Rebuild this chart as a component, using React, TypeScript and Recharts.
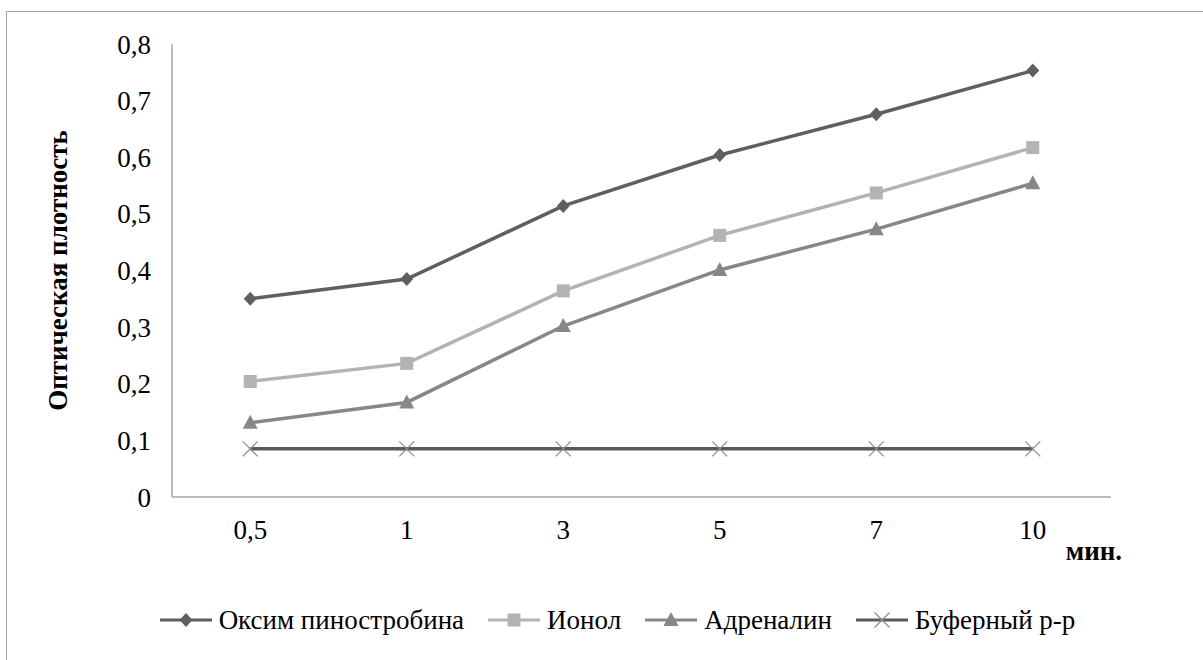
import React from 'react';
import { LineChart, Line, XAxis, YAxis, Legend } from 'recharts';

const categories = ['0,5', '1', '3', '5', '7', '10'];
const oximValues = [0.35, 0.385, 0.514, 0.604, 0.676, 0.753];
const ionolValues = [0.204, 0.236, 0.364, 0.462, 0.537, 0.617];
const adrenalineValues = [0.131, 0.167, 0.302, 0.401, 0.473, 0.554];
const bufferValues = [0.085, 0.085, 0.085, 0.085, 0.085, 0.085];
const yTicks = [0, 0.1, 0.2, 0.3, 0.4, 0.5, 0.6, 0.7, 0.8];
const seriesNames = ['Оксим пиностробина', 'Ионол', 'Адреналин', 'Буферный р-р'];
const yTitle = 'Оптическая плотность';
const xTitle = 'мин.';

const data = categories.map((cat, i) => ({
  cat,
  oxim: oximValues[i],
  ionol: ionolValues[i],
  adrenaline: adrenalineValues[i],
  buffer: bufferValues[i],
}));

const FONT = '"Liberation Serif", Tinos, "DejaVu Serif", serif';
const FS = 27;
const C_OXIM = '#5f5f5f';
const C_IONOL = '#b3b3b3';
const C_ADR = '#878787';
const C_BUF = '#595959';
const C_X = '#8c8c8c';

type MarkerKind = 'diamond' | 'square' | 'triangle' | 'x';

const Marker = ({ kind, cx, cy, color }: { kind: MarkerKind; cx: number; cy: number; color: string }) => {
  if (kind === 'diamond') {
    const w = 6.5, h = 7;
    return <path d={`M${cx} ${cy - h} L${cx + w} ${cy} L${cx} ${cy + h} L${cx - w} ${cy} Z`} fill={color} />;
  }
  if (kind === 'square') {
    const s = 6.5;
    return <rect x={cx - s} y={cy - s} width={s * 2} height={s * 2} fill={color} />;
  }
  if (kind === 'triangle') {
    const w = 7.5;
    return <path d={`M${cx} ${cy - 8} L${cx + w} ${cy + 6} L${cx - w} ${cy + 6} Z`} fill={color} />;
  }
  const r = 7.5;
  return (
    <g stroke={color} strokeWidth={1.3}>
      <line x1={cx - r} y1={cy - r} x2={cx + r} y2={cy + r} />
      <line x1={cx - r} y1={cy + r} x2={cx + r} y2={cy - r} />
    </g>
  );
};

const makeDot = (kind: MarkerKind, color: string) => (p: any) => (
  <Marker key={`${kind}-${p.index}`} kind={kind} cx={p.cx} cy={p.cy} color={color} />
);

const legendItems: { name: string; line: string; marker: string; kind: MarkerKind }[] = [
  { name: seriesNames[0], line: C_OXIM, marker: C_OXIM, kind: 'diamond' },
  { name: seriesNames[1], line: C_IONOL, marker: C_IONOL, kind: 'square' },
  { name: seriesNames[2], line: C_ADR, marker: C_ADR, kind: 'triangle' },
  { name: seriesNames[3], line: C_BUF, marker: C_X, kind: 'x' },
];

const LegendContent = () => (
  <div
    style={{
      display: 'flex',
      justifyContent: 'center',
      alignItems: 'center',
      height: 40,
      paddingLeft: 32,
      fontFamily: FONT,
      fontSize: FS,
      color: '#000',
    }}
  >
    {legendItems.map((it, i) => (
      <div key={it.name} style={{ display: 'flex', alignItems: 'center', marginLeft: i === 0 ? 0 : 24 }}>
        <svg width={52} height={20} style={{ marginRight: 7 }}>
          <line x1={0} y1={10} x2={52} y2={10} stroke={it.line} strokeWidth={3} />
          <Marker kind={it.kind} cx={26} cy={10} color={it.marker} />
        </svg>
        <span>{it.name}</span>
      </div>
    ))}
  </div>
);

const fmt = (v: number) => (v === 0 ? '0' : v.toFixed(1).replace('.', ','));

export default function App() {
  return (
    <div style={{ position: 'absolute', left: 0, top: 0, width: 1203, height: 660, overflow: 'hidden', background: '#fff' }}>
      <div
        style={{
          position: 'absolute',
          left: 6,
          top: 11,
          width: 1300,
          height: 800,
          border: '1px solid #a6a6a6',
        }}
      />
      <div style={{ position: 'absolute', left: 0, top: 0 }}>
        <LineChart
          width={1203}
          height={660}
          data={data}
          margin={{ top: 44, right: 92, left: 0, bottom: 20 }}
        >
          <XAxis
            dataKey="cat"
            scale="band"
            tickLine={false}
            tickSize={0}
            tickMargin={23}
            height={103}
            axisLine={{ stroke: '#a6a6a6', strokeWidth: 1.5 }}
            tick={{ fontFamily: FONT, fontSize: FS, fill: '#000' }}
            interval={0}
            label={{
              content: (props: any) => {
                const vb = props.viewBox;
                return (
                  <text
                    x={vb.x + vb.width - 17}
                    y={vb.y + 63}
                    textAnchor="middle"
                    fontFamily={FONT}
                    fontSize={FS}
                    fontWeight="bold"
                    fill="#000"
                  >
                    {xTitle}
                  </text>
                );
              },
            }}
          />
          <XAxis
            xAxisId="top"
            orientation="top"
            dataKey="cat"
            scale="band"
            height={0}
            tick={false}
            tickLine={false}
            axisLine={{ stroke: '#707070', strokeWidth: 2 }}
          />
          <YAxis
            domain={[0, 0.8]}
            ticks={yTicks}
            width={172}
            tickLine={false}
            tickSize={0}
            tickMargin={21}
            tickFormatter={fmt}
            axisLine={{ stroke: '#a6a6a6', strokeWidth: 1.5 }}
            tick={{ fontFamily: FONT, fontSize: FS, fill: '#000' }}
            label={{
              content: (props: any) => {
                const vb = props.viewBox;
                const cx = vb.x + 58;
                const cy = vb.y + vb.height / 2;
                return (
                  <text
                    x={cx}
                    y={cy}
                    transform={`rotate(-90 ${cx} ${cy})`}
                    textAnchor="middle"
                    dominantBaseline="central"
                    fontFamily={FONT}
                    fontSize={FS}
                    fontWeight="bold"
                    fill="#000"
                  >
                    {yTitle}
                  </text>
                );
              },
            }}
          />
          <YAxis
            yAxisId="right"
            orientation="right"
            width={0}
            tick={false}
            tickLine={false}
            axisLine={{ stroke: '#404040', strokeWidth: 1.5 }}
          />
          <Legend verticalAlign="bottom" align="center" height={40} wrapperStyle={{ left: 0, width: 1203 }} content={<LegendContent />} />
          <Line dataKey="buffer" stroke={C_BUF} strokeWidth={3.5} dot={makeDot('x', C_X)} activeDot={false} isAnimationActive={false} />
          <Line dataKey="adrenaline" stroke={C_ADR} strokeWidth={3.5} dot={makeDot('triangle', C_ADR)} activeDot={false} isAnimationActive={false} />
          <Line dataKey="ionol" stroke={C_IONOL} strokeWidth={3.5} dot={makeDot('square', C_IONOL)} activeDot={false} isAnimationActive={false} />
          <Line dataKey="oxim" stroke={C_OXIM} strokeWidth={3.5} dot={makeDot('diamond', C_OXIM)} activeDot={false} isAnimationActive={false} />
        </LineChart>
      </div>
    </div>
  );
}
